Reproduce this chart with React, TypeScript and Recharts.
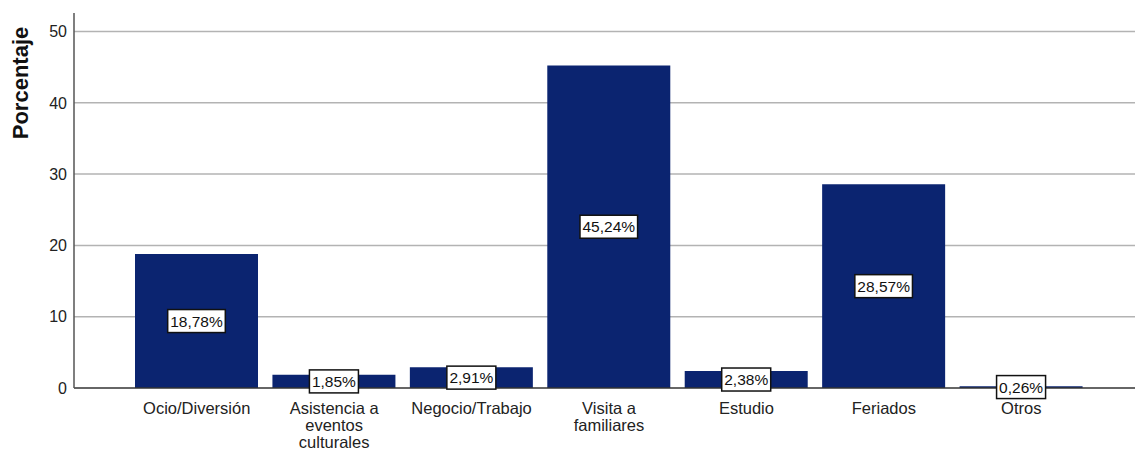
import React from "react";
import { BarChart, Bar, XAxis, YAxis, CartesianGrid, LabelList } from "recharts";

const categories = [
  "Ocio/Diversión",
  "Asistencia a eventos culturales",
  "Negocio/Trabajo",
  "Visita a familiares",
  "Estudio",
  "Feriados",
  "Otros",
];
const tickLines: string[][] = [
  ["Ocio/Diversión"],
  ["Asistencia a", "eventos", "culturales"],
  ["Negocio/Trabajo"],
  ["Visita a", "familiares"],
  ["Estudio"],
  ["Feriados"],
  ["Otros"],
];
const percentages = [18.78, 1.85, 2.91, 45.24, 2.38, 28.57, 0.26];
const percentLabels = ["18,78%", "1,85%", "2,91%", "45,24%", "2,38%", "28,57%", "0,26%"];
const yTicks = [0, 10, 20, 30, 40, 50];
const gridValues = [10, 20, 30, 40, 50];

const data = categories.map((name, i) => ({
  name,
  value: percentages[i],
  label: percentLabels[i],
}));

const FONT = "'Liberation Sans', Arial, sans-serif";

const XTick = (props: any) => {
  const { x, y, payload, index } = props;
  const lines = tickLines[index] || [payload.value];
  return (
    <g>
      {lines.map((l: string, i: number) => (
        <text
          key={i}
          x={x}
          y={y + 18 + i * 17}
          textAnchor="middle"
          fontSize={16.5}
          fontFamily={FONT}
          fill="#222"
        >
          {l}
        </text>
      ))}
    </g>
  );
};

const ValueLabel = (props: any) => {
  const { x, y, width, height, index } = props;
  const txt = percentLabels[index];
  const cx = x + width / 2;
  const cy = y + height / 2;
  const w = txt.length * 8.6 + 6;
  const h = 23;
  return (
    <g>
      <rect x={cx - w / 2} y={cy - h / 2} width={w} height={h} fill="#fff" stroke="#111" strokeWidth={1.5} />
      <text x={cx} y={cy + 5.5} textAnchor="middle" fontSize={15.5} fontFamily={FONT} fill="#111">
        {txt}
      </text>
    </g>
  );
};

const YLabel = (props: any) => {
  const vb = props.viewBox || { x: 0, y: 13 };
  const lx = 28;
  const ly = vb.y + 70;
  return (
    <text
      x={lx}
      y={ly}
      transform={`rotate(-90, ${lx}, ${ly})`}
      textAnchor="middle"
      fontSize={22}
      fontWeight="bold"
      fontFamily={FONT}
      fill="#111"
    >
      Porcentaje
    </text>
  );
};

export default function App() {
  return (
    <div style={{ position: "absolute", left: 0, top: 0, background: "#fff" }}>
      <BarChart
        width={1135}
        height={450}
        data={data}
        margin={{ top: 13, right: 0, left: 0, bottom: 0 }}
        style={{ fontFamily: FONT }}
      >
        <CartesianGrid vertical={false} horizontalValues={gridValues} stroke="#b3b3b3" strokeWidth={1.5} />
        <XAxis
          dataKey="name"
          height={62}
          interval={0}
          padding={{ left: 54, right: 45 }}
          tickLine={false}
          axisLine={{ stroke: "#333", strokeWidth: 1.5 }}
          tick={<XTick />}
        />
        <YAxis
          width={74}
          domain={[0, 52.6]}
          ticks={yTicks}
          allowDataOverflow
          tickLine={false}
          tickSize={5}
          tickMargin={2}
          axisLine={{ stroke: "#555", strokeWidth: 1.5 }}
          tick={{ fontSize: 16, fill: "#222", fontFamily: FONT }}
          label={<YLabel />}
        />
        <Bar dataKey="value" fill="#0b2470" barSize={123} isAnimationActive={false}>
          <LabelList dataKey="label" content={<ValueLabel />} />
        </Bar>
      </BarChart>
    </div>
  );
}
